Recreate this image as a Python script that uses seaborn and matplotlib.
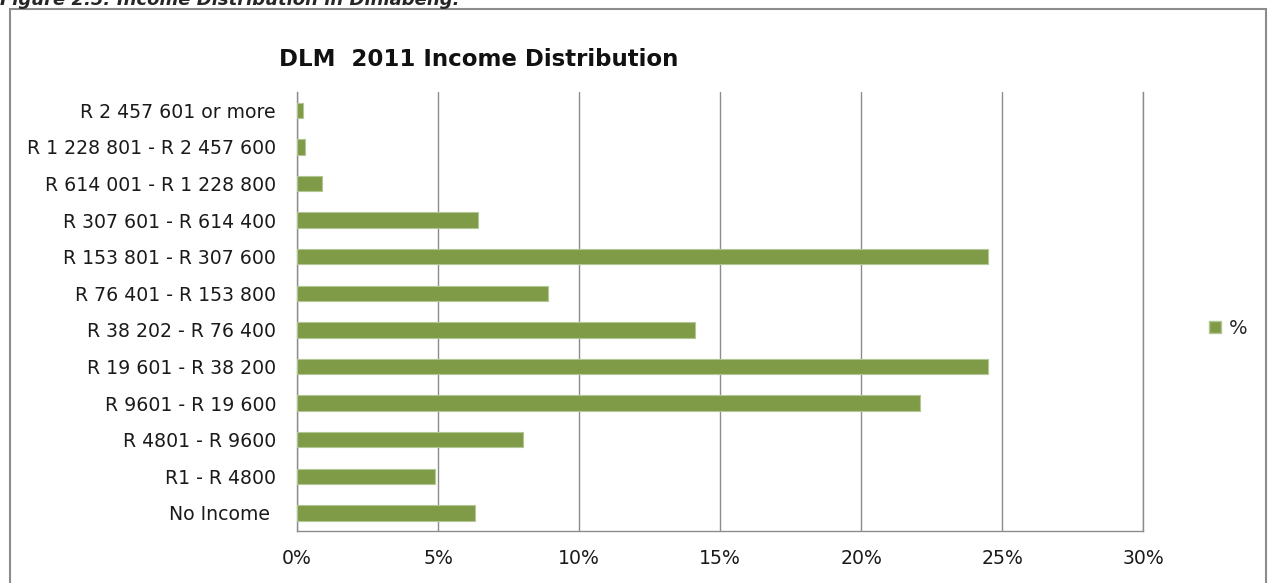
import matplotlib
matplotlib.use("Agg")
import matplotlib.pyplot as plt
import seaborn as sns
import pandas as pd
from matplotlib.patches import Rectangle, Patch
from matplotlib.ticker import FuncFormatter, MultipleLocator

# Income bands (top to bottom) and share of households in percent
income_bands = [
    "R 2 457 601 or more",
    "R 1 228 801 - R 2 457 600",
    "R 614 001 - R 1 228 800",
    "R 307 601 - R 614 400",
    "R 153 801 - R 307 600",
    "R 76 401 - R 153 800",
    "R 38 202 - R 76 400",
    "R 19 601 - R 38 200",
    "R 9601 - R 19 600",
    "R 4801 - R 9600",
    "R1 - R 4800",
    "No Income ",
]
share_pct = [0.2, 0.3, 0.9, 6.4, 24.5, 8.9, 14.1, 24.5, 22.1, 8.0, 4.9, 6.3]
series_name = "%"

df = pd.DataFrame({"band": income_bands, "share": share_pct})

sns.set_style("white")
plt.rcParams["font.family"] = ["DejaVu Sans"]

bar_color = "#7F9B48"
grid_color = "#8C8C8C"

fig = plt.figure(figsize=(12.69, 5.83), dpi=100)
ax = fig.add_axes([0.234, 0.089, 0.667, 0.753])

sns.barplot(data=df, x="share", y="band", order=income_bands, orient="h",
            color=bar_color, width=0.42, saturation=1, ax=ax,
            edgecolor="#B3C795", linewidth=0.8, zorder=3)

ax.set_xlim(0, 30)
ax.xaxis.set_major_locator(MultipleLocator(5))
ax.xaxis.set_major_formatter(FuncFormatter(lambda v, _: f"{v:.0f}%"))
ax.grid(axis="x", color=grid_color, linewidth=1.0, zorder=0)
ax.set_axisbelow(True)
ax.set_xlabel("")
ax.set_ylabel("")
ax.tick_params(axis="both", length=0, labelsize=13.6, colors="#1a1a1a")
ax.tick_params(axis="x", pad=13)
ax.tick_params(axis="y", pad=15)

ax.spines["top"].set_visible(False)
for side in ["left", "bottom", "right"]:
    ax.spines[side].set_color(grid_color)
    ax.spines[side].set_linewidth(1.0)

ax.set_title("DLM  2011 Income Distribution", fontsize=16.5, fontweight="bold",
             loc="left", x=-0.021, y=1.04, color="#111111")

fig.legend(handles=[Patch(facecolor=bar_color, edgecolor="#B3C795", label=series_name)],
           loc="center left", bbox_to_anchor=(0.939, 0.437), frameon=False,
           fontsize=14, handlelength=0.6, handleheight=0.6, handletextpad=0.4)

# Frame around the chart area
fig.patches.append(Rectangle((0.0075, -0.02), 0.9905, 1.005, transform=fig.transFigure,
                             fill=False, edgecolor="#8C8C8C", linewidth=1.5))

# Figure caption above the frame
fig.text(0.0, 1.0, "Figure 2.5: Income Distribution in Dihlabeng.", fontsize=13,
         fontweight="bold", fontstyle="italic", va="center", ha="left")

fig.savefig("out.png", dpi=100)
